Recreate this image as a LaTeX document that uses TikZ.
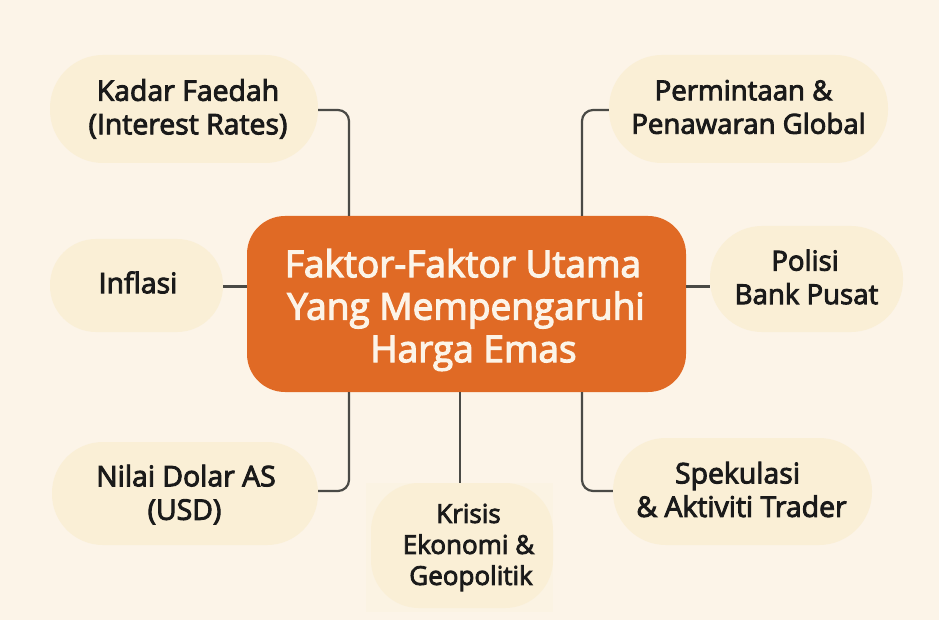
\documentclass[tikz,border=0pt]{standalone}
\usepackage{fontspec}
\setmainfont{Open Sans}[FakeBold=3.2]
\definecolor{bgc}{HTML}{FCF4E8}
\definecolor{pill}{HTML}{FAEFD6}
\definecolor{hub}{HTML}{E06A25}
\definecolor{ink}{HTML}{1A1A1A}
\definecolor{wire}{HTML}{4A4A46}
\tikzset{
  x=1pt,y=-1pt,
  pillbox/.style={fill=pill,inner sep=0pt,rounded corners=#1},
  pillbox/.default=50pt,
  pilltext/.style={text=ink,align=center,inner sep=0pt,font=\fontsize{28.4}{33.5}\selectfont},
  pilltextsmall/.style={text=ink,align=center,inner sep=0pt,font=\fontsize{27.6}{33.5}\selectfont},
  krisistext/.style={text=ink,align=center,inner sep=0pt,font=\fontsize{26}{31}\selectfont},
  hubbox/.style={fill=hub,inner sep=0pt,rounded corners=38pt},
  hubtext/.style={text=bgc,align=center,inner sep=0pt,font=\fontsize{37}{42.5}\selectfont},
  wirepath/.style={draw=wire,line width=2.2pt,rounded corners=11pt},
}
\begin{document}
\begin{tikzpicture}
\useasboundingbox[fill=bgc] (0,0) rectangle (939,620);
\fill[pill!30!bgc] (366,483) rectangle (553,612);
\node[hubbox,minimum width=439pt,minimum height=176pt,label={[hubtext,xshift=0pt,yshift=-6pt]center:{\hspace*{-7pt}Faktor-Faktor Utama\\\hspace*{-1pt}Yang Mempengaruhi\\\hspace*{14pt}Harga Emas}}] (hub) at (466.5,304) {};
\node[pillbox=53pt,minimum width=268pt,minimum height=108pt,label={[pilltext,xshift=4pt]center:{Kadar Faedah\\(Interest Rates)}}] (kadar) at (184,109) {};
\node[pillbox=46pt,minimum width=173pt,minimum height=93pt,label={[pilltext,xshift=1.5pt,yshift=3pt]center:{Inflasi}}] (inflasi) at (136.5,285.5) {};
\node[pillbox=51pt,minimum width=266pt,minimum height=103pt,label={[pilltext,xshift=1.5pt,yshift=-1pt]center:{\hspace*{-1pt}Nilai Dolar AS\\\hspace*{-4pt}(USD)}}] (usd) at (185,493.5) {};
\node[pillbox=48pt,minimum width=182pt,minimum height=125pt,label={[krisistext,xshift=6.5pt,yshift=-2pt]center:{Krisis\\Ekonomi \&\\\hspace*{5pt}Geopolitik}}] (krisis) at (462,545.5) {};
\node[pillbox=53pt,minimum width=279pt,minimum height=108pt,label={[pilltextsmall,yshift=2pt]center:{\hspace*{-10pt}Permintaan \&\\Penawaran Global}}] (permintaan) at (748.5,109) {};
\node[pillbox=52pt,minimum width=193pt,minimum height=106pt,label={[pilltextsmall,yshift=2pt]center:{\hspace*{-3pt}Polisi\\Bank Pusat}}] (polisi) at (806.5,279) {};
\node[pillbox=53pt,minimum width=259pt,minimum height=107pt,label={[pilltext,xshift=-1pt,yshift=2pt]center:{\hspace*{-8pt}Spekulasi\\\& Aktiviti Trader}}] (spekulasi) at (742.5,491.5) {};
\coordinate (hubA) at (349,216);
\coordinate (hubB) at (582,216);
\coordinate (hubC) at (349,392);
\coordinate (hubD) at (582,392);
\coordinate (hubE) at (460,392);
\coordinate (krisisTop) at (460,483);
\coordinate (hubL) at (247,286.5);
\coordinate (hubR) at (686,286.5);
\coordinate (polisiL) at (710,286.5);
\coordinate (inflasiR) at (223,286.5);
\draw[wirepath] ([yshift=-1pt]kadar.east) -| (hubA);
\draw[wirepath] ([yshift=-1pt]permintaan.west) -| (hubB);
\draw[wirepath] ([yshift=2.5pt]usd.east) -| (hubC);
\draw[wirepath] ([yshift=0.5pt]spekulasi.west) -| (hubD);
\draw[wirepath] (hubE) -- (krisisTop);
\draw[wirepath] (inflasiR) -- (hubL);
\draw[wirepath] (hubR) -- (polisiL);
\end{tikzpicture}
\end{document}
